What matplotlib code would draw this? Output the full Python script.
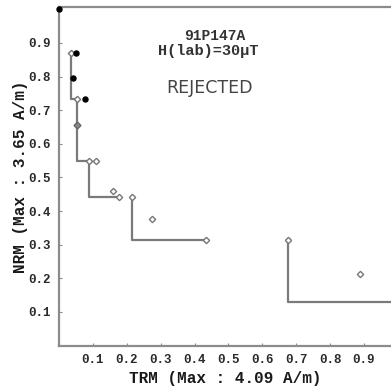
import matplotlib
matplotlib.use('Agg')
import matplotlib.pyplot as plt

# точки (TRM, NRM), доли от максимума
filled_x = [0.0, 0.05, 0.042, 0.076]
filled_y = [1.0, 0.87, 0.796, 0.733]

open_x = [0.035, 0.054, 0.087, 0.108, 0.16, 0.178, 0.214, 0.275, 0.434, 0.675, 0.888]
open_y = [0.871, 0.733, 0.549, 0.549, 0.46, 0.443, 0.443, 0.376, 0.314, 0.314, 0.213]

grey_x = [0.054]
grey_y = [0.656]

# ступенчатые линии
step1_x = [0.035, 0.035, 0.054, 0.054, 0.087, 0.087, 0.178]
step1_y = [0.871, 0.733, 0.733, 0.549, 0.549, 0.443, 0.443]
step2_x = [0.214, 0.214, 0.434]
step2_y = [0.443, 0.314, 0.314]
step3_x = [0.675, 0.675, 1.0]
step3_y = [0.314, 0.129, 0.129]

ticks = [0.1, 0.2, 0.3, 0.4, 0.5, 0.6, 0.7, 0.8, 0.9]
tick_labels = ['0.1', '0.2', '0.3', '0.4', '0.5', '0.6', '0.7', '0.8', '0.9']

mono = ['Liberation Mono', 'DejaVu Sans Mono']

fig = plt.figure(figsize=(3.91, 3.87), dpi=100)
ax = fig.add_axes([0.151, 0.107, 0.849, 0.875])
ax.set_xlim(0, 0.98)
ax.set_ylim(0, 1.007)

line_color = '#7a7a7a'
for sx, sy in [(step1_x, step1_y), (step2_x, step2_y), (step3_x, step3_y)]:
    ax.plot(sx, sy, color=line_color, lw=1.6, clip_on=False, zorder=2)

ax.plot(open_x, open_y, 'D', ms=3.2, mfc='white', mec='#777777', mew=1.0, zorder=3)
ax.plot(grey_x, grey_y, 'D', ms=3.5, mfc='#888888', mec='#666666', mew=1.0, zorder=3)
ax.plot(filled_x, filled_y, 'o', ms=3.6, color='black', zorder=4, clip_on=False)

for side in ['left', 'top', 'bottom']:
    ax.spines[side].set_color('#8c8c8c')
    ax.spines[side].set_linewidth(1.6)
ax.spines['right'].set_visible(False)

ax.set_xticks(ticks)
ax.set_xticklabels(tick_labels)
ax.set_yticks(ticks)
ax.set_yticklabels(tick_labels)
ax.tick_params(direction='in', length=2, color='#8c8c8c', pad=6)
for lab in ax.get_xticklabels() + ax.get_yticklabels():
    lab.set_family(mono)
    lab.set_fontweight('bold')
    lab.set_fontsize(9)
    lab.set_color('#2a2a2a')

ax.set_xlabel('TRM (Max : 4.09 A/m)', family=mono, fontweight='bold', fontsize=11.5, color='#1a1a1a', labelpad=4)
ax.set_ylabel('NRM (Max : 3.65 A/m)', family=mono, fontweight='bold', fontsize=11.5, color='#1a1a1a', labelpad=0)

# подписи в поле графика
fig.text(215 / 391, 1 - 36 / 387, '91P147A', family=mono, fontweight='bold', fontsize=10.5,
         ha='center', va='center', color='#333333')
fig.text(208 / 391, 1 - 51 / 387, 'H(lab)=30\u03bcT', family=mono, fontweight='bold', fontsize=11,
         ha='center', va='center', color='#333333')
fig.text(209 / 391, 1 - 88 / 387, 'REJECTED', family=['DejaVu Sans'], fontsize=12.5,
         ha='center', va='center', color='#444444')

plt.savefig('out.png', dpi=100)
plt.close()
